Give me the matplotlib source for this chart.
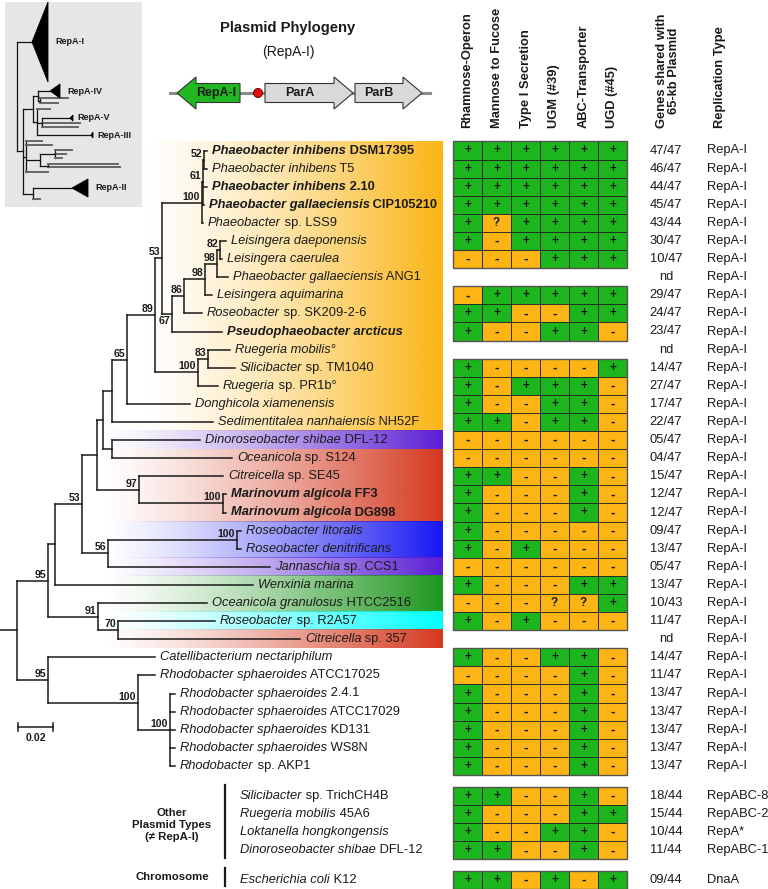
"""RepA-I plasmid phylogeny next to a gene presence matrix."""

import matplotlib

matplotlib.use("Agg")
import matplotlib.pyplot as plt
import numpy as np
from matplotlib.colors import to_rgb
from matplotlib.patches import Circle, Polygon, Rectangle

plt.rcParams["font.family"] = ["Liberation Sans", "DejaVu Sans"]

# ---------------------------------------------------------------- data
LEAF_ITALIC = [
    "Phaeobacter inhibens", "Phaeobacter inhibens", "Phaeobacter inhibens",
    "Phaeobacter gallaeciensis", "Phaeobacter", "Leisingera daeponensis",
    "Leisingera caerulea", "Phaeobacter gallaeciensis", "Leisingera aquimarina",
    "Roseobacter", "Pseudophaeobacter arcticus", "Ruegeria mobilis",
    "Silicibacter", "Ruegeria", "Donghicola xiamenensis",
    "Sedimentitalea nanhaiensis", "Dinoroseobacter shibae", "Oceanicola",
    "Citreicella", "Marinovum algicola", "Marinovum algicola",
    "Roseobacter litoralis", "Roseobacter denitrificans", "Jannaschia",
    "Wenxinia marina", "Oceanicola granulosus", "Roseobacter", "Citreicella",
    "Catellibacterium nectariphilum", "Rhodobacter sphaeroides",
    "Rhodobacter sphaeroides", "Rhodobacter sphaeroides",
    "Rhodobacter sphaeroides", "Rhodobacter sphaeroides", "Rhodobacter",
    "Silicibacter", "Ruegeria mobilis", "Loktanella hongkongensis",
    "Dinoroseobacter shibae", "Escherichia coli",
]
LEAF_ROMAN = [
    " DSM17395", " T5", " 2.10", " CIP105210", " sp. LSS9", "", "", " ANG1", "",
    " sp. SK209-2-6", "", "°", " sp. TM1040", " sp. PR1b°", "", " NH52F",
    " DFL-12", " sp. S124", " sp. SE45", " FF3", " DG898", "", "", " sp. CCS1",
    "", " HTCC2516", " sp. R2A57", " sp. 357", "", " ATCC17025", " 2.4.1",
    " ATCC17029", " KD131", " WS8N", " sp. AKP1", " sp. TrichCH4B", " 45A6",
    "", " DFL-12", " K12",
]
LEAF_BOLD = [0, 2, 3, 10, 19, 20]

FEATURES = [
    "Rhamnose-Operon", "Mannose to Fucose", "Type I Secretion",
    "UGM (#39)", "ABC-Transporter", "UGD (#45)",
]
GENE_CALLS = [
    "++++++", "++++++", "++++++", "++++++", "+?++++", "+-++++", "---+++",
    None, "-+++++", "++--++", "+--++-", None, "+----+", "+-+++-", "+--++-",
    "++-++-", "------", "------", "++--+-", "+---+-", "+---+-", "+-----",
    "+-+---", "------", "+---++", "---??+", "+-+---", None, "+--++-",
    "----+-", "+---+-", "+---+-", "+---+-", "+---+-", "+---+-",
    "++--+-", "+---++", "+--++-", "++--+-", "++-+-+",
]
SHARED = [
    "47/47", "46/47", "44/47", "45/47", "43/44", "30/47", "10/47", "nd",
    "29/47", "24/47", "23/47", "nd", "14/47", "27/47", "17/47", "22/47",
    "05/47", "04/47", "15/47", "12/47", "12/47", "09/47", "13/47", "05/47",
    "13/47", "10/43", "11/47", "nd", "14/47", "11/47", "13/47", "13/47",
    "13/47", "13/47", "13/47", "18/44", "15/44", "10/44", "11/44", "09/44",
]
REP_TYPE = ["RepA-I"] * 35 + ["RepABC-8", "RepABC-2", "RepA*", "RepABC-1", "DnaA"]

# host clade colour bands: first row, last row, colour
BAND_FIRST = [0, 16, 17, 21, 23, 24, 26, 27]
BAND_LAST = [15, 16, 20, 22, 23, 25, 26, 27]
BAND_COLOR = ["#FBB515", "#5A1ED4", "#D4381E", "#1616F2", "#5A1ED4",
              "#1E961E", "#00FFFF", "#D4381E"]

# RepA-I tree, node depths in substitutions per site from the root
def node(depth, support, *kids, below=False):
    return {"d": depth, "s": support, "kids": kids, "below": below}


def leaf(depth, idx):
    return {"d": depth, "leaf": idx}


TREE = node(0.0, None,
    node(0.0177, "95",
        node(0.0217, None,
            node(0.0371, "53",
                node(0.0457, None,
                    node(0.0491, None,
                        node(0.0543, None,
                            node(0.0629, "65",
                                node(0.0789, "89",
                                    node(0.0829, "53",
                                        node(0.1057, "100",
                                            node(0.1063, "61",
                                                node(0.1069, "52",
                                                     leaf(0.1086, 0), leaf(0.1086, 1)),
                                                leaf(0.1086, 2), leaf(0.1066, 3)),
                                            leaf(0.1063, 4)),
                                        node(0.0886, "67",
                                            node(0.0954, "86",
                                                node(0.1074, "98",
                                                    node(0.1143, "98",
                                                        node(0.1160, "82",
                                                             leaf(0.1194, 5), leaf(0.1171, 6)),
                                                        leaf(0.1206, 7)),
                                                    leaf(0.1114, 8)),
                                                leaf(0.1057, 9)),
                                            leaf(0.1171, 10), below=True)),
                                    node(0.1034, "100",
                                        node(0.1091, "83", leaf(0.1217, 11), leaf(0.1246, 12)),
                                        leaf(0.1149, 13))),
                                leaf(0.0989, 14)),
                            leaf(0.1120, 15)),
                        node(0.0543, None, leaf(0.1046, 16), leaf(0.1229, 17))),
                    node(0.0697, "97", leaf(0.1177, 18),
                         node(0.1177, "100", leaf(0.1194, 19), leaf(0.1194, 20)))),
                node(0.0520, "56",
                     node(0.1257, "100", leaf(0.1280, 21), leaf(0.1280, 22)),
                     leaf(0.1446, 23))),
            leaf(0.1349, 24)),
        node(0.0463, "91", leaf(0.1086, 25),
             node(0.0577, "70", leaf(0.1131, 26), leaf(0.1617, 27)))),
    node(0.0177, "95", leaf(0.0789, 28),
        node(0.0691, "100", leaf(0.0789, 29),
             node(0.0874, "100", leaf(0.0903, 30), leaf(0.0903, 31),
                  leaf(0.0903, 32), leaf(0.0903, 33), leaf(0.0903, 34)))))

# overview tree of all RepA families (inset), collapsed clades as triangles
INSET_Y = [42, 91, 98, 103, 109, 118, 123, 127, 135, 141, 145, 150, 154, 158,
           164, 167, 172, 188, 199]
INSET_END = [48, 60, 68, 58, 50, 73, 80, 78, 93, 42, 52, 72, 66, 62, 118, 120,
             48, 88, 40]
INSET_START = [32, 50, None, None, None, 70, None, None, 91, None, None, None,
               None, None, None, None, None, 72, None]
INSET_HALF = [40, 7, 0, 0, 0, 3, 0, 0, 3, 0, 0, 0, 0, 0, 0, 0, 0, 9, 0]
INSET_NAME = ["RepA-I", "RepA-IV", "", "", "", "RepA-V", "", "", "RepA-III",
              "", "", "", "", "", "", "", "", "RepA-II", ""]
INSET_TREE = (17, [0, (23, [
    (33, [(38, [1, (40, [2, 3])]), (37, [4, (42, [5, 6, 7]), 8])]),
    (26, [9, 10, (40, [(55, [11, 12, 13]), (48, [14, 15])]), 16]),
    (33, [17, 18]),
])])

GENE_NAMES = ["RepA-I", "ParA", "ParB"]
GENE_FROM = [240, 265, 355]
GENE_TO = [177, 353, 422]
GENE_FILL = ["#22B822", "#D9D9D9", "#D9D9D9"]

# ---------------------------------------------------------------- layout
W, H = 768, 889
INK = "#1a1a1a"
GREEN = "#1DB51D"
ORANGE = "#FDB515"
ROOT_X = 17
PX_PER_SUB = 1750
PITCH = 18.1
LEAF_FS = 9.3
GRID_X0 = 453
CELL_W = 29


def row_y(i):
    if i < 35:
        return 150.5 + PITCH * i
    if i < 39:
        return 796 + PITCH * (i - 35)
    return 880


fig = plt.figure(figsize=(W / 100, H / 100), dpi=100)
ax = fig.add_axes([0, 0, 1, 1])
ax.set_xlim(0, W)
ax.set_ylim(H, 0)
ax.set_autoscale_on(False)
ax.axis("off")
renderer = fig.canvas.get_renderer()

# colour bands behind the tips
for first, last, color in zip(BAND_FIRST, BAND_LAST, BAND_COLOR):
    x0 = 143 if first == 0 else 100
    ramp = np.linspace(0, 1, 256) ** 1.3
    img = np.zeros((1, 256, 4))
    img[0, :, :3] = to_rgb(color)
    img[0, :, 3] = ramp
    ax.imshow(img, extent=[x0, 443, row_y(last) + PITCH / 2, row_y(first) - PITCH / 2],
              aspect="auto", interpolation="bilinear", zorder=0)


def tip_label(x, y, i):
    weight = "bold" if i in LEAF_BOLD else "normal"
    t = ax.text(x, y, LEAF_ITALIC[i], style="italic", fontweight=weight,
                fontsize=LEAF_FS, ha="left", va="center", color=INK, zorder=3)
    if LEAF_ROMAN[i]:
        w = t.get_window_extent(renderer).width
        ax.text(x + w, y, LEAF_ROMAN[i], fontweight=weight, fontsize=LEAF_FS,
                ha="left", va="center", color=INK, zorder=3)


def draw_tree(nd):
    x = ROOT_X + nd["d"] * PX_PER_SUB
    if "leaf" in nd:
        y = row_y(nd["leaf"])
        tip_label(x + 5, y, nd["leaf"])
        return x, y
    pts = [draw_tree(k) for k in nd["kids"]]
    y = (pts[0][1] + pts[-1][1]) / 2
    ax.plot([x, x], [pts[0][1], pts[-1][1]], color=INK, lw=1.1, zorder=2)
    for cx, cy in pts:
        ax.plot([x, cx], [cy, cy], color=INK, lw=1.1, zorder=2)
    if nd["s"]:
        if nd["below"]:
            ax.text(x - 2, y + 2, nd["s"], ha="right", va="top", fontsize=7.6,
                    fontweight="bold", color=INK, zorder=3)
        else:
            ax.text(x - 2, y - 1, nd["s"], ha="right", va="bottom", fontsize=7.6,
                    fontweight="bold", color=INK, zorder=3)
    return x, y


rx, ry = draw_tree(TREE)
ax.plot([0, rx], [ry, ry], color=INK, lw=1.1)

# scale bar
bar = 0.02 * PX_PER_SUB
ax.plot([18, 18 + bar], [727, 727], color=INK, lw=1.1)
for bx in (18, 18 + bar):
    ax.plot([bx, bx], [723, 731], color=INK, lw=1.1)
ax.text(18 + bar / 2, 733, "0.02", ha="center", va="top", fontsize=7.6,
        fontweight="bold", color=INK)

# other replicons
for i in range(35, 40):
    tip_label(240, row_y(i), i)
ax.plot([225, 225], [785, 858], color=INK, lw=1.6)
ax.plot([225, 225], [868, 886], color=INK, lw=1.6)
ax.text(172, 825, "Other\nPlasmid Types\n(≠ RepA-I)", ha="center", va="center",
        fontsize=8.2, fontweight="bold", color=INK, linespacing=1.3)
ax.text(172, 877, "Chromosome", ha="center", va="center", fontsize=8.2,
        fontweight="bold", color=INK)

# presence matrix
run = []
runs = []
for i, calls in enumerate(GENE_CALLS):
    if calls is None or i in (35, 39):
        if run:
            runs.append(run)
        run = []
    if calls is not None:
        run.append(i)
runs.append(run)

for i, calls in enumerate(GENE_CALLS):
    if calls is None:
        continue
    y = row_y(i)
    for j, c in enumerate(calls):
        x = GRID_X0 + CELL_W * j
        ax.add_patch(Rectangle((x, y - PITCH / 2), CELL_W, PITCH,
                               facecolor=GREEN if c == "+" else ORANGE,
                               edgecolor="#222222", lw=0.6, zorder=2))
        ax.text(x + CELL_W / 2, y, c, ha="center", va="center",
                fontsize=10 if c == "-" else 8.5,
                fontweight="bold", color=INK, zorder=3)
for r in runs:
    top = row_y(r[0]) - PITCH / 2
    ax.add_patch(Rectangle((GRID_X0, top), CELL_W * 6, PITCH * len(r),
                           fill=False, edgecolor="#555555", lw=1.0, zorder=3))

for i in range(len(SHARED)):
    y = row_y(i)
    ax.text(666, y, SHARED[i], ha="center", va="center", fontsize=LEAF_FS, color=INK)
    ax.text(707, y, REP_TYPE[i], ha="left", va="center", fontsize=LEAF_FS, color=INK)

# column headers
for j, name in enumerate(FEATURES):
    ax.text(GRID_X0 + CELL_W * (j + 0.5), 128, name, rotation=90, ha="center",
            va="bottom", fontsize=9.3, fontweight="bold", color=INK)
ax.text(668, 128, "Genes shared with\n65-kb Plasmid", rotation=90, ha="center",
        va="bottom", multialignment="center", fontsize=9.3, fontweight="bold",
        color=INK, linespacing=1.05)
ax.text(720, 128, "Replication Type", rotation=90, ha="center", va="bottom",
        fontsize=9.3, fontweight="bold", color=INK)

# title and RepA-I locus
ax.text(288, 28, "Plasmid Phylogeny", ha="center", va="center", fontsize=10.6,
        fontweight="bold", color=INK)
ax.text(288, 52, "(RepA-I)", ha="center", va="center", fontsize=10, color=INK)
gy = 93
ax.plot([170, 430], [gy, gy], color="#8a8a8a", lw=2.2, zorder=1)
for name, start, end, fill in zip(GENE_NAMES, GENE_FROM, GENE_TO, GENE_FILL):
    sign = 1 if end > start else -1
    neck = end - sign * 19
    pts = [(start, gy - 9.5), (neck, gy - 9.5), (neck, gy - 16), (end, gy),
           (neck, gy + 16), (neck, gy + 9.5), (start, gy + 9.5)]
    ax.add_patch(Polygon(pts, closed=True, facecolor=fill, edgecolor="#333333",
                         lw=0.8, zorder=2))
    ax.text((start + neck) / 2 if sign > 0 else (start + neck) / 2 - 2, gy, name,
            ha="center", va="center", fontsize=9, fontweight="bold",
            color=INK, zorder=3)
ax.add_patch(Circle((258, gy), 4.5, facecolor="#E01010", edgecolor="#660000",
                    lw=0.7, zorder=3))

# inset overview tree
ax.add_patch(Rectangle((5, 2), 137, 205, facecolor="#E6E6E6", edgecolor="none", zorder=0))


def draw_inset(nd):
    if isinstance(nd, int):
        y = INSET_Y[nd]
        start = INSET_START[nd]
        if start is None:
            return ("gray", nd), y
        return ("tri", nd), y
    x, kids = nd
    pts = [draw_inset(k) for k in kids]
    ys = [p[1] for p in pts]
    y = (ys[0] + ys[-1]) / 2
    ax.plot([x, x], [ys[0], ys[-1]], color="#111111", lw=0.9, zorder=2)
    for (kind, k), ky in pts:
        if kind == "node":
            ax.plot([x, k], [ky, ky], color="#111111", lw=0.9, zorder=2)
        elif kind == "gray":
            ax.plot([x, INSET_END[k]], [ky, ky], color="#666666", lw=1.4, zorder=2)
        else:
            s, e, h = INSET_START[k], INSET_END[k], INSET_HALF[k]
            ax.plot([x, s], [ky, ky], color="#111111", lw=0.9, zorder=2)
            ax.add_patch(Polygon([(s, ky), (e, ky - h), (e, ky + h)], closed=True,
                                 facecolor="black", edgecolor="black", lw=0.6, zorder=2))
            ax.text(e + 7 if h > 4 else e + 4, ky, INSET_NAME[k], ha="left",
                    va="center", fontsize=6.5, fontweight="bold", color=INK)
    return ("node", x), y


_, iy = draw_inset(INSET_TREE)

fig.savefig("out.png", dpi=100)
